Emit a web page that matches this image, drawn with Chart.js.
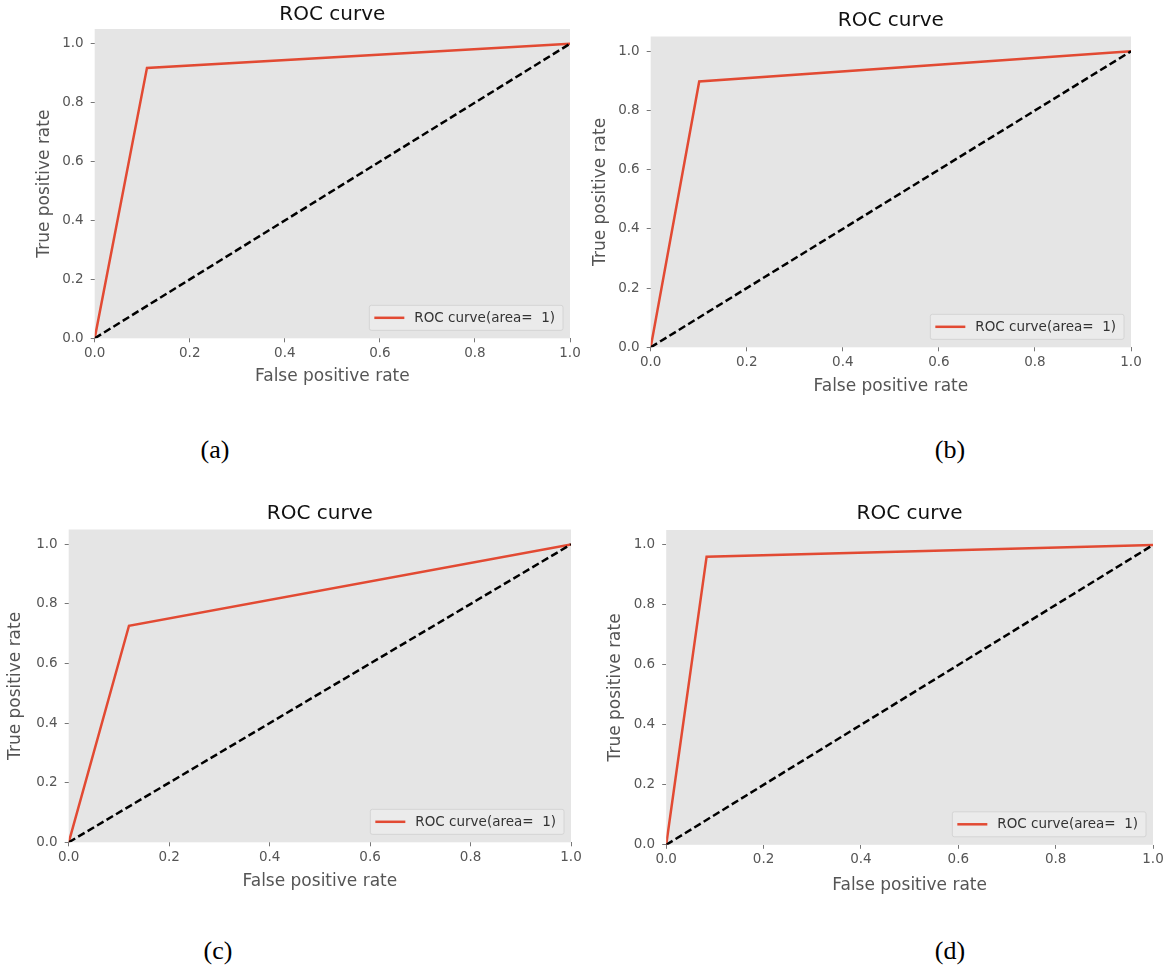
<!DOCTYPE html>
<html>
<head>
<meta charset="utf-8">
<script src="https://cdn.jsdelivr.net/npm/chart.js@4.4.1/dist/chart.umd.min.js"></script>
<style>
  body { margin: 0; background: #fff; width: 1170px; height: 970px; position: relative; overflow: hidden; }
  canvas { position: absolute; }
  .caption { position: absolute; font-family: "Liberation Serif", "Times New Roman", serif; font-size: 26px; color: #000; transform: translate(-50%, -50%); }
</style>
</head>
<body>
<canvas id="rocA"></canvas>
<canvas id="rocB"></canvas>
<canvas id="rocC"></canvas>
<canvas id="rocD"></canvas>

<script>
// ROC data (fpr, tpr)
const FPR_A = [0, 0.11, 1];
const TPR_A = [0, 0.918, 1];
const FPR_B = [0, 0.101, 1];
const TPR_B = [0, 0.898, 1];
const FPR_C = [0, 0.12, 1];
const TPR_C = [0, 0.727, 1];
const FPR_D = [0, 0.083, 1];
const TPR_D = [0, 0.961, 1];

// chance line
const CHANCE_X = [0, 1];
const CHANCE_Y = [0, 1];

const TICK_VALUES = [0, 0.2, 0.4, 0.6, 0.8, 1.0];
const CAPTIONS = ['(a)', '(b)', '(c)', '(d)'];
const LEGEND_LABEL = 'ROC curve(area=  1)';
const TITLE = 'ROC curve';
const X_TITLE = 'False positive rate';
const Y_TITLE = 'True positive rate';

const RED = '#E24A33';
const TEXT_GREY = '#555555';
const FONT = '"DejaVu Sans", Verdana, sans-serif';

// page positions of each panel (plot box, axis titles, title, caption)
const panels = [
  { id: 'rocA', fpr: FPR_A, tpr: TPR_A, l: 94.5, r: 569.5, t: 28.5, b: 338, yTitleX: 44, xTitleY: 376.5, titleY: 14.5, capX: 215, capY: 450 },
  { id: 'rocB', fpr: FPR_B, tpr: TPR_B, l: 651, r: 1131, t: 36, b: 347, yTitleX: 600.5, xTitleY: 386.5, titleY: 20.5, capX: 950, capY: 450 },
  { id: 'rocC', fpr: FPR_C, tpr: TPR_C, l: 69, r: 571.5, t: 529, b: 842, yTitleX: 15.5, xTitleY: 881.5, titleY: 513.5, capX: 218, capY: 951 },
  { id: 'rocD', fpr: FPR_D, tpr: TPR_D, l: 666.5, r: 1153, t: 530, b: 845, yTitleX: 615.5, xTitleY: 886, titleY: 514, capX: 950, capY: 951 }
];

const toPoints = (xs, ys) => xs.map((x, i) => ({ x: x, y: ys[i] }));

// grey plot background
const plotBackground = {
  id: 'plotBackground',
  beforeDatasetsDraw(chart) {
    const a = chart.chartArea;
    const ctx = chart.ctx;
    ctx.save();
    ctx.fillStyle = '#E5E5E5';
    ctx.fillRect(a.left, a.top, a.right - a.left, a.bottom - a.top);
    ctx.restore();
  }
};

// matplotlib style legend box in the lower right corner
const cornerLegend = {
  id: 'cornerLegend',
  afterDatasetsDraw(chart) {
    const a = chart.chartArea;
    const ctx = chart.ctx;
    const ds = chart.data.datasets[0];
    ctx.save();
    ctx.font = '13.5px ' + FONT;
    const tw = ctx.measureText(ds.label).width;
    const w = 5 + 30 + 10 + tw + 8;
    const h = 25;
    const x = a.right - 7 - w;
    const y = a.bottom - 8 - h;
    ctx.fillStyle = 'rgba(235,235,235,0.9)';
    ctx.strokeStyle = '#d4d4d4';
    ctx.lineWidth = 1;
    ctx.beginPath();
    ctx.roundRect(x, y, w, h, 2);
    ctx.fill();
    ctx.stroke();
    ctx.strokeStyle = ds.borderColor;
    ctx.lineWidth = 2.5;
    ctx.beginPath();
    ctx.moveTo(x + 5, y + h / 2);
    ctx.lineTo(x + 35, y + h / 2);
    ctx.stroke();
    ctx.fillStyle = '#333';
    ctx.textBaseline = 'middle';
    ctx.fillText(ds.label, x + 45, y + h / 2 + 0.5);
    ctx.restore();
  }
};

function axisCommon(fixSize) {
  return {
    type: 'linear',
    afterBuildTicks: s => { s.ticks = TICK_VALUES.map(v => ({ value: v })); },
    afterFit: fixSize,
    grid: { display: true, drawOnChartArea: false, drawTicks: true, tickLength: 4, color: '#777', lineWidth: 1 },
    border: { display: false },
    ticks: {
      autoSkip: false,
      maxRotation: 0,
      color: TEXT_GREY,
      font: { family: FONT, size: 13.5 },
      callback: v => Number(v).toFixed(1)
    }
  };
}

panels.forEach((p, idx) => {
  const titleSize = 20, titleLH = titleSize * 1.2;
  const axTitleSize = 17, axTitleLH = axTitleSize * 1.2;
  const cx = p.yTitleX - axTitleLH / 2 - 2;
  const cy = p.titleY - titleLH / 2 - 3;
  const cw = p.r + 24 - cx;
  const ch = p.xTitleY + axTitleLH / 2 + 2 - cy;
  const yW = p.l - cx - 2;
  const xH = p.xTitleY + axTitleLH / 2 - p.b;
  const titleBottom = p.t - (p.titleY + titleLH / 2);

  const canvas = document.getElementById(p.id);
  canvas.width = Math.round(cw);
  canvas.height = Math.round(ch);
  canvas.style.left = cx + 'px';
  canvas.style.top = cy + 'px';

  const xAxis = axisCommon(s => { s.height = xH; });
  xAxis.min = 0;
  xAxis.max = 1;
  xAxis.position = 'bottom';
  xAxis.title = { display: true, text: X_TITLE, color: TEXT_GREY, font: { family: FONT, size: axTitleSize }, padding: { top: 0, bottom: 0 } };

  const yAxis = axisCommon(s => { s.width = yW; });
  yAxis.min = 0;
  yAxis.max = 1.05;
  yAxis.position = 'left';
  yAxis.ticks.padding = 7;
  yAxis.title = { display: true, text: Y_TITLE, color: TEXT_GREY, font: { family: FONT, size: axTitleSize }, padding: { top: 0, bottom: 0 } };

  new Chart(canvas, {
    type: 'scatter',
    data: {
      datasets: [
        {
          label: LEGEND_LABEL,
          data: toPoints(p.fpr, p.tpr),
          showLine: true,
          borderColor: RED,
          borderWidth: 2.5,
          pointRadius: 0,
          order: 1
        },
        {
          label: 'chance',
          data: toPoints(CHANCE_X, CHANCE_Y),
          showLine: true,
          borderColor: '#000',
          borderWidth: 2.5,
          borderDash: [7.5, 3.5],
          pointRadius: 0,
          order: 0
        }
      ]
    },
    options: {
      responsive: false,
      animation: false,
      devicePixelRatio: 1,
      layout: { padding: { left: 2, right: cw - (p.r - cx), top: 0, bottom: 2 } },
      plugins: {
        legend: { display: false },
        tooltip: { enabled: false },
        title: {
          display: true,
          text: TITLE,
          fullSize: false,
          color: '#111',
          font: { family: FONT, size: titleSize, weight: 'normal' },
          padding: { top: 3, bottom: titleBottom }
        }
      },
      scales: { x: xAxis, y: yAxis }
    },
    plugins: [plotBackground, cornerLegend]
  });

  const cap = document.createElement('div');
  cap.className = 'caption';
  cap.textContent = CAPTIONS[idx];
  cap.style.left = p.capX + 'px';
  cap.style.top = p.capY + 'px';
  document.body.appendChild(cap);
});
</script>
</body>
</html>
